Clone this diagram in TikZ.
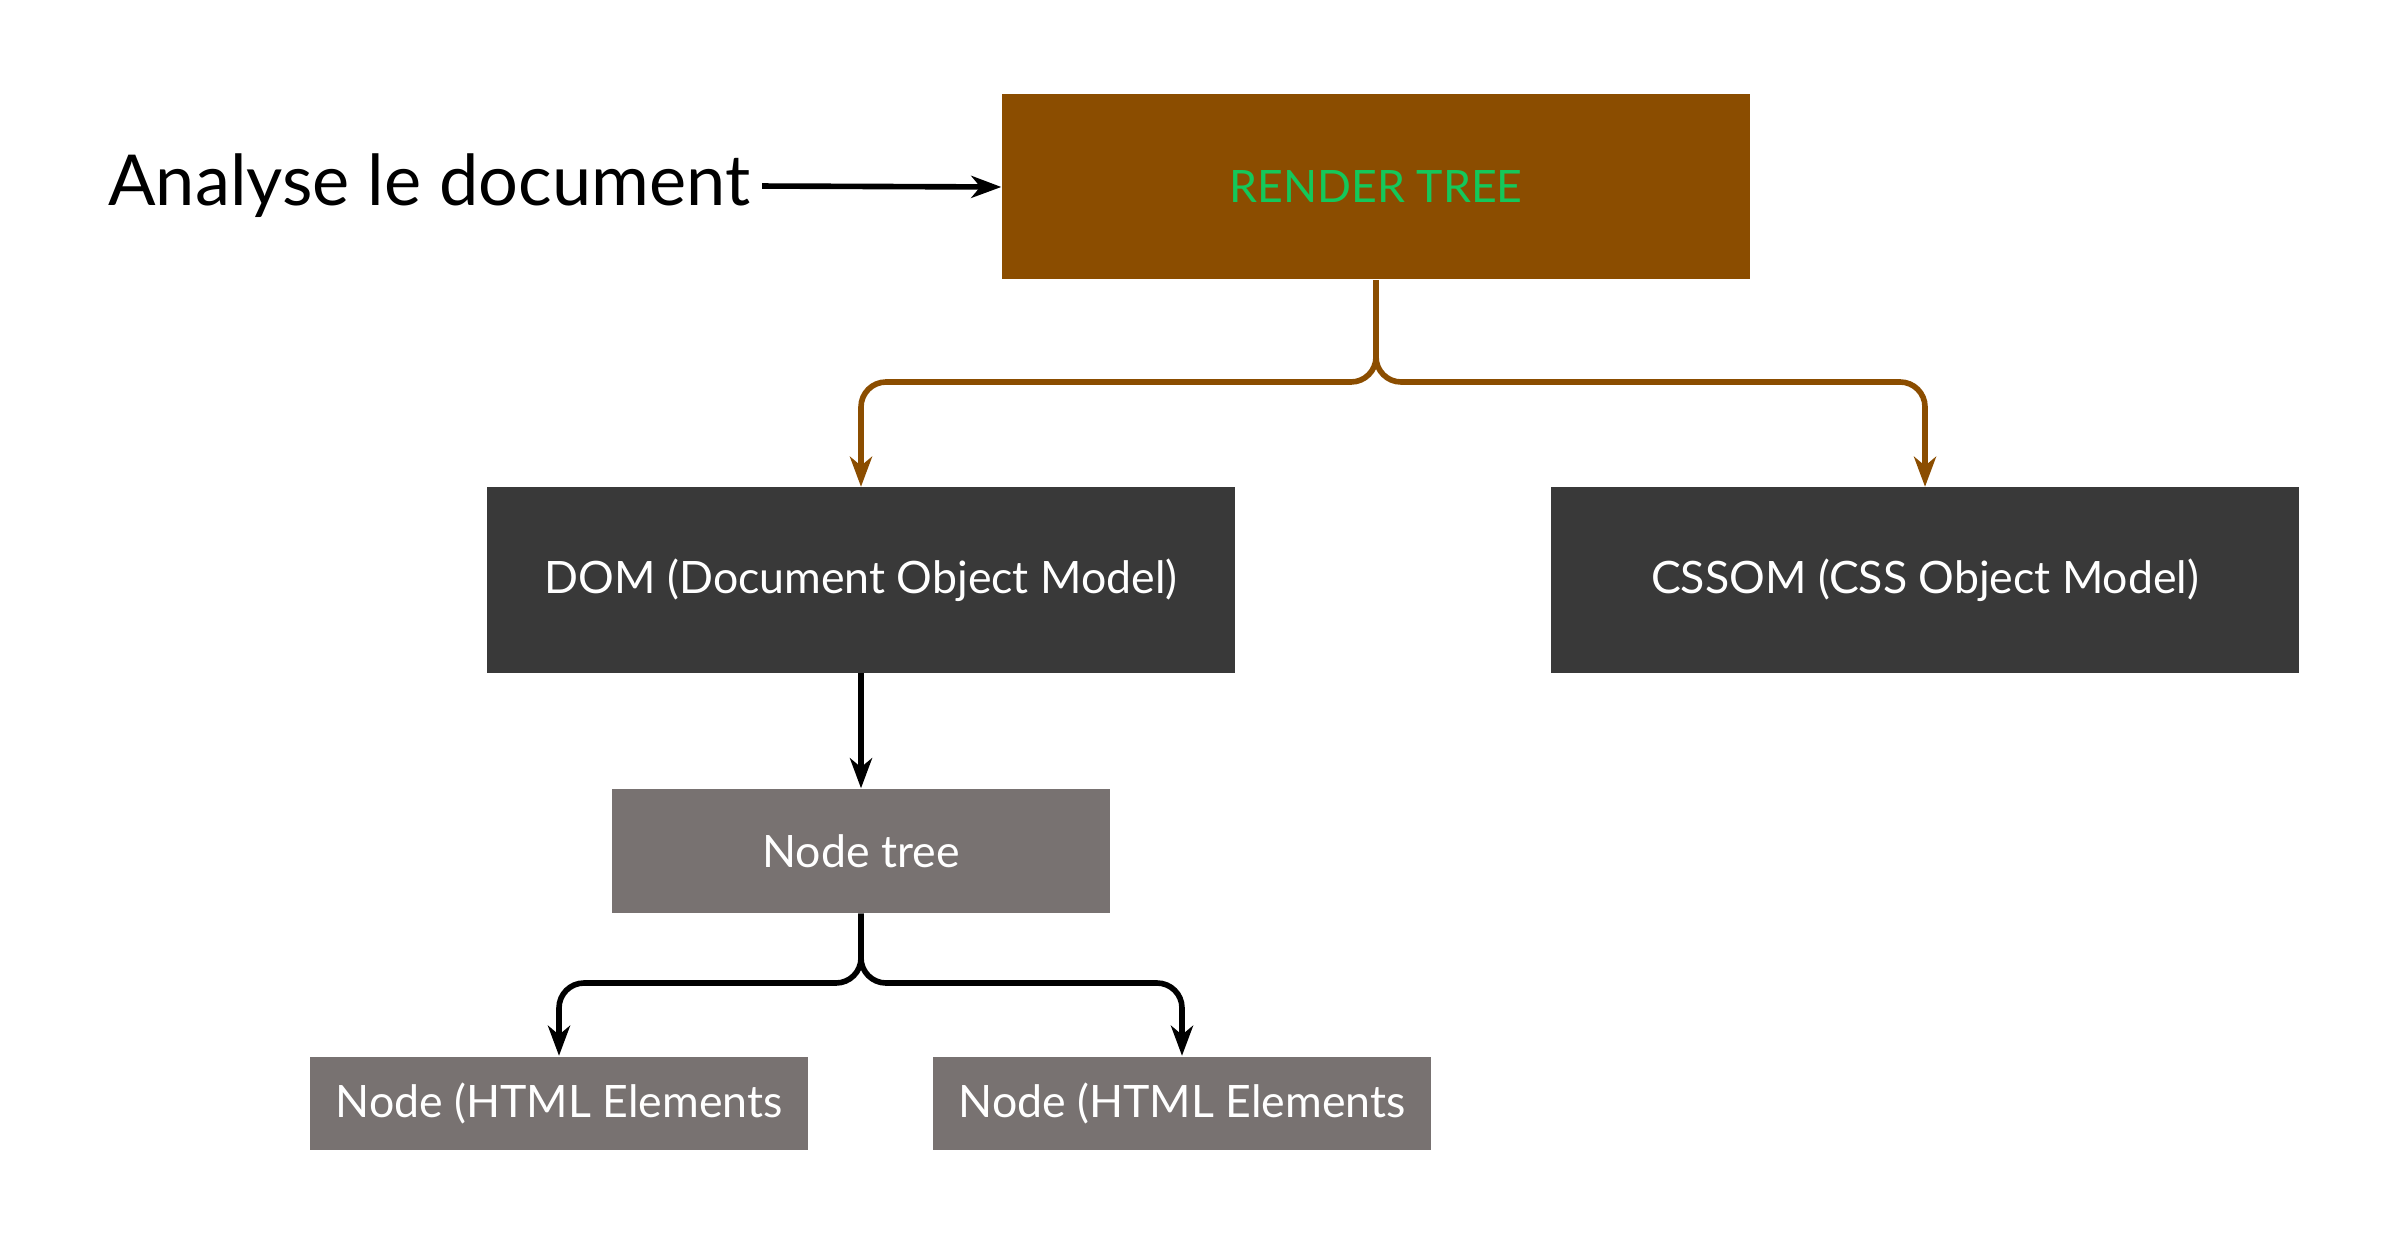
\documentclass[tikz,border=0pt]{standalone}
\usepackage{fontspec}
\setmainfont{Lato}
\usetikzlibrary{arrows.meta}

\definecolor{rtbrown}{RGB}{139,77,0}
\definecolor{rtgreen}{RGB}{20,200,90}
\definecolor{domgray}{RGB}{57,57,57}
\definecolor{nodegray}{RGB}{120,114,113}

\tikzset{
  bigbox/.style={rectangle,inner sep=0pt,minimum width=7.48cm,minimum height=1.85cm,text=white,font=\fontsize{12.7}{15}\selectfont},
  smallbox/.style={rectangle,fill=nodegray,inner sep=0pt,minimum width=4.98cm,text=white,font=\fontsize{12.7}{15}\selectfont},
  link/.style={line width=1.6pt,rounded corners=0.25cm,-{Stealth[length=0.3cm,width=0.22cm,inset=0.09cm]}}
}

\begin{document}
\begin{tikzpicture}
\useasboundingbox (0,0) rectangle (23.94,-12.45);
\node[bigbox,fill=rtbrown,text=rtgreen] (rt) at (13.76,-1.87) {RENDER TREE};
\node[bigbox,fill=domgray] (dom) at (8.61,-5.80) {DOM (Document Object Model)};
\node[bigbox,fill=domgray] (cssom) at (19.25,-5.80) {CSSOM (CSS Object Model)};
\node[smallbox,minimum height=1.24cm] (ntree) at (8.61,-8.51) {Node tree};
\node[smallbox,minimum height=0.93cm] (html1) at (5.59,-11.03) {Node (HTML Elements};
\node[smallbox,minimum height=0.93cm] (html2) at (11.82,-11.03) {Node (HTML Elements};
\node[anchor=east,inner sep=0pt,font=\fontsize{20}{24}\selectfont] (doc) at (7.51,-1.86) {Analyse le document};

\coordinate (fork1) at (13.76,-3.82);
\coordinate (fork2) at (8.61,-9.83);

\draw[link,shorten <=0.11cm] (doc.east) -- (rt.west);
\draw[link,rtbrown] (rt.south) -- (fork1) -| (dom.north);
\draw[link,rtbrown] (rt.south) -- (fork1) -| (cssom.north);
\draw[link] (dom.south) -- (ntree.north);
\draw[link] (ntree.south) -- (fork2) -| (html1.north);
\draw[link] (ntree.south) -- (fork2) -| (html2.north);
\end{tikzpicture}
\end{document}
